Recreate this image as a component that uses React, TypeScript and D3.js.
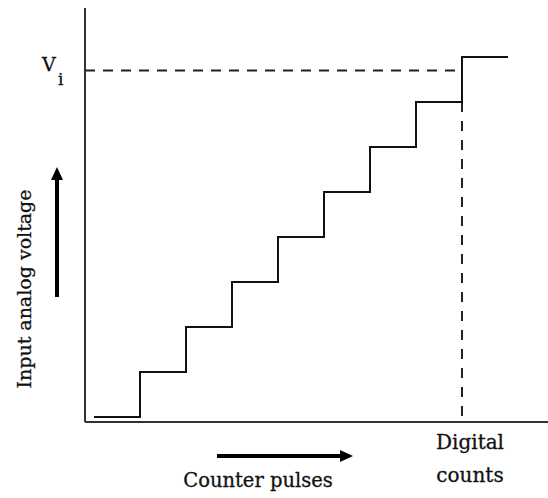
import React from "react";
import * as d3 from "d3";

// Staircase data: counter pulse index -> DAC output level
const pulseCounts = [0, 1, 2, 3, 4, 5, 6, 7, 8, 9];
const stairLevels = [0, 1, 2, 3, 4, 5, 6, 7, 8];
const inputVoltageLevel = 7.7; // V_i
const digitalCount = 8; // count where staircase crosses V_i
const xAxisLabel = "Counter pulses";
const yAxisLabel = "Input analog voltage";
const countLabelLines = ["Digital", "counts"];

const W = 548;
const H = 498;
const FONT = "DejaVu Serif, Liberation Serif, serif";

export default function App() {
  const x = d3.scaleLinear().domain([0, 9]).range([94, 508]);
  const y = d3.scaleLinear().domain([0, 8]).range([417, 57]);
  const axisX = 85;
  const axisY = 422;

  const pts: [number, number][] = pulseCounts.map((c, i) => [
    c,
    stairLevels[Math.min(i, stairLevels.length - 1)],
  ]);
  const stair = d3
    .line<[number, number]>()
    .x((d) => x(d[0]))
    .y((d) => y(d[1]))
    .curve(d3.curveStepAfter)(pts) as string;

  const viY = y(inputVoltageLevel);
  const dcX = x(digitalCount);
  const ts = { fontFamily: FONT };

  return (
    <svg
      width={W}
      height={H}
      style={{ position: "absolute", left: 0, top: 0, background: "#fff" }}
    >
      {/* axes */}
      <line x1={axisX} y1={8} x2={axisX} y2={axisY} stroke="#333" strokeWidth={2} />
      <line x1={axisX} y1={axisY} x2={W} y2={axisY} stroke="#333" strokeWidth={2} />

      {/* dashed guides */}
      <line
        x1={axisX}
        y1={viY}
        x2={dcX}
        y2={viY}
        stroke="#222"
        strokeWidth={2}
        strokeDasharray="10,8"
      />
      <line
        x1={dcX}
        y1={y(stairLevels[7])}
        x2={dcX}
        y2={axisY}
        stroke="#222"
        strokeWidth={2}
        strokeDasharray="10,9"
      />

      {/* staircase */}
      <path d={stair} fill="none" stroke="#111" strokeWidth={2} />

      {/* V_i label */}
      <text x={42} y={71} fontSize={19} fill="#111" stroke="#111" strokeWidth={0.3} style={ts}>V</text>
      <text x={58} y={85} fontSize={17} fill="#111" stroke="#111" strokeWidth={0.3} style={ts}>i</text>

      {/* y-axis label and arrow */}
      <text
        transform={`translate(31, 289) rotate(-90)`}
        textAnchor="middle"
        fontSize={19}
        fill="#111"
        stroke="#111"
        strokeWidth={0.3}
        style={ts}
      >
        {yAxisLabel}
      </text>
      <line x1={57} y1={297} x2={57} y2={178} stroke="#000" strokeWidth={4} />
      <path d="M57,167 L63,180 L51,180 Z" fill="#000" />

      {/* x-axis label and arrow */}
      <line x1={217} y1={456} x2={342} y2={456} stroke="#000" strokeWidth={4} />
      <path d="M353,456 L340,450 L340,462 Z" fill="#000" />
      <text
        x={258}
        y={487}
        textAnchor="middle"
        fontSize={19.5}
        fill="#111"
        stroke="#111"
        strokeWidth={0.3}
        style={ts}
      >
        {xAxisLabel}
      </text>

      {/* digital counts label */}
      {countLabelLines.map((t, i) => (
        <text
          key={t}
          x={470}
          y={449 + i * 33}
          textAnchor="middle"
          fontSize={20}
          fill="#111"
          stroke="#111"
          strokeWidth={0.3}
          style={ts}
        >
          {t}
        </text>
      ))}
    </svg>
  );
}
